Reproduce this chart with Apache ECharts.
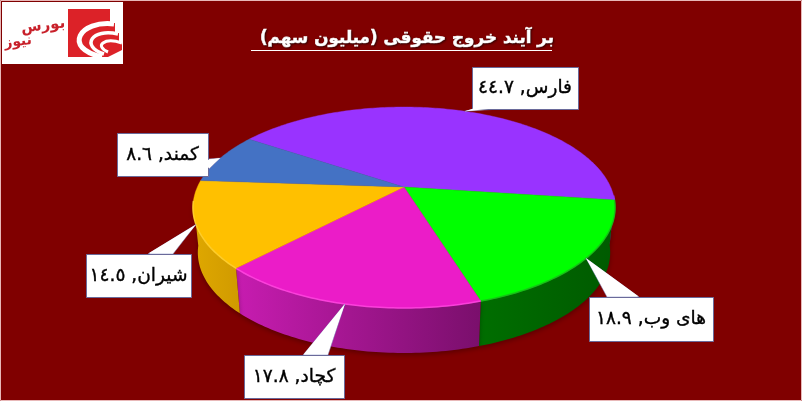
<!DOCTYPE html>
<html><head><meta charset="utf-8">
<style>html,body{margin:0;padding:0;background:#800000}#c{width:802px;height:401px}</style>
<script src="https://cdn.jsdelivr.net/npm/echarts@6/dist/echarts.min.js"></script>
</head><body><div id="c"></div>
<script>
const titleText = 'بر آیند خروج حقوقی (میلیون سهم)';
const logoWords = ['بورس', 'نیوز'];
const categories = ['فارس', 'های وب', 'کچاد', 'شیران', 'کمند'];
const values = [44.7, 18.9, 17.8, 14.5, 8.6];
const valueLabels = ['٤٤.٧', '١٨.٩', '١٧.٨', '١٤.٥', '٨.٦'];
const topColors = ['#9933FF', '#00FF00', '#EB1CC8', '#FFC000', '#4472C4'];
const edgeColors = ['#9933FF', '#18C018', '#FF45E0', '#FFD030', '#4472C4'];
const wallFrom = ['#7020C0', '#006E00', '#C71CB0', '#DFA800', '#335599'];
const wallTo = ['#7020C0', '#005A00', '#7A0F6C', '#D09A00', '#335599'];
const boxes = [[472,67,106,42],[589,297,124,44],[244,355,100,43],[86,254,105,43],[117,133,91,43]];
const bases = [[[474,109],[500,109]],[[607,297],[639,297]],[[303,355],[328,355]],[[148,254],[173,254]],[[208,159],[208,170]]];

const total = values.reduce((a, b) => a + b, 0);
const startDeg = -56.5, cx = 404, cy = 187, R = 206.6, A = 96.3, C = -0.204, depth = 45, shrink = 0.977;
const wallMin = 95, wallMax = 262;
function topPt(d) {
  const t = d * Math.PI / 180, u = Math.sin(t), v = -Math.cos(t), k = 1 + C * v;
  return [cx + R * u / k, cy + A * v / k];
}
function bottomPt(d) {
  const p = topPt(d);
  return [cx + (p[0] - cx) * shrink, p[1] + depth];
}
const spans = [];
values.reduce((s, v) => { const e = s + v / total * 360; spans.push([s, e]); return e; }, startDeg);
function arc(a, b, f) {
  const pts = [], n = Math.max(2, Math.ceil(Math.abs(b - a)));
  for (let i = 0; i <= n; i++) pts.push(f(a + (b - a) * i / n));
  return pts;
}
const idx = values.map((v, i) => [i, v]);

const chart = echarts.init(document.getElementById('c'), null, { renderer: 'canvas' });
chart.setOption({
  backgroundColor: '#800000',
  animation: false,
  title: {
    text: titleText, left: 402, top: 25, textAlign: 'center',
    textStyle: { color: '#fff', fontFamily: 'DejaVu Sans', fontWeight: 'bold', fontSize: 16.8,
      textBorderColor: '#fff', textBorderWidth: 0.6,
      textShadowColor: 'rgba(0,0,0,.5)', textShadowBlur: 2, textShadowOffsetX: 1, textShadowOffsetY: 1 }
  },
  series: [
    { type: 'custom', coordinateSystem: 'none', data: idx, z: 2, silent: true,
      renderItem(p, api) {
        const i = api.value(0), a = Math.max(spans[i][0], wallMin), b = Math.min(spans[i][1], wallMax);
        if (a >= b) return { type: 'group', children: [] };
        const t = arc(a, b, topPt), bt = arc(a, b, bottomPt).reverse();
        const xs = t.concat(bt).map(q => q[0]);
        return { type: 'polygon', shape: { points: t.concat(bt) },
          style: { fill: new echarts.graphic.LinearGradient(Math.min(...xs), 0, Math.max(...xs), 0,
            [{ offset: 0, color: wallFrom[i] }, { offset: 1, color: wallTo[i] }], true),
            shadowColor: 'rgba(0,0,0,.3)', shadowBlur: 5, shadowOffsetY: 2 } };
      } },
    { type: 'custom', coordinateSystem: 'none', data: idx, z: 3, silent: true,
      renderItem(p, api) {
        const i = api.value(0), a = spans[i][0], b = spans[i][1];
        const children = [{ type: 'polygon', shape: { points: [[cx, cy]].concat(arc(a, b, topPt)) },
          style: { fill: topColors[i], stroke: topColors[i], lineWidth: 0.4 } }];
        const ea = Math.max(a, wallMin), eb = Math.min(b, wallMax);
        if (ea < eb) children.push({ type: 'polyline', shape: { points: arc(ea, eb, topPt) },
          style: { fill: null, stroke: edgeColors[i], lineWidth: 1.5, opacity: 0.9 } });
        return { type: 'group', children };
      } },
    { type: 'custom', coordinateSystem: 'none', data: idx, z: 5, silent: true,
      renderItem(p, api) {
        const i = api.value(0), tip = topPt((spans[i][0] + spans[i][1]) / 2), bx = boxes[i], ba = bases[i];
        return { type: 'group', children: [
          { type: 'polygon', shape: { points: [ba[0], tip, ba[1]] },
            style: { fill: '#fff', stroke: 'rgba(120,130,190,.8)', lineWidth: 0.6 } },
          { type: 'rect', shape: { x: bx[0] + .5, y: bx[1] + .5, width: bx[2], height: bx[3] },
            style: { fill: '#fff', stroke: '#6A6A9A', lineWidth: 1 } },
          { type: 'polygon', shape: { points: [[ba[0][0] + (i === 4 ? -1 : 1), ba[0][1] + (i === 4 ? 1 : -1)], tip, [ba[1][0] - 1, ba[1][1] - 1]] },
            style: { fill: '#fff' } },
          { type: 'text', style: { text: categories[i] + ', ' + valueLabels[i],
              x: bx[0] + bx[2] / 2, y: bx[1] + bx[3] / 2 + .5, align: 'center', verticalAlign: 'middle',
              fill: '#000', stroke: '#000', lineWidth: 0.35, font: '18.6px "DejaVu Sans"' } }
        ] };
      } }
  ],
  graphic: [
    { type: 'line', z: 6, shape: { x1: 251, y1: 50.5, x2: 552, y2: 50.5 }, style: { stroke: '#fff', lineWidth: 1 } },
    { type: 'rect', z: 6, shape: { x: 2, y: 2, width: 121, height: 62 }, style: { fill: '#fff' } },
    { type: 'polygon', z: 7, shape: { points: [[68,9],[110,9],[110,23],[115,23],[115,33],[119,33],[119,42],[122,42],[122,50],[108,57],[68,57]] }, style: { fill: '#DC2228' } },
    { type: 'bezierCurve', z: 8, shape: { x1: 114, y1: 24, cpx1: 80, cpy1: 20, cpx2: 62, cpy2: 48, x2: 102, y2: 57 }, style: { stroke: '#fff', fill: null, lineWidth: 5 } },
    { type: 'bezierCurve', z: 8, shape: { x1: 118, y1: 34, cpx1: 92, cpy1: 28, cpx2: 80, cpy2: 46, x2: 104, y2: 54 }, style: { stroke: '#fff', fill: null, lineWidth: 3.5 } },
    { type: 'bezierCurve', z: 8, shape: { x1: 122, y1: 43, cpx1: 104, cpy1: 37, cpx2: 94, cpy2: 46, x2: 108, y2: 52 }, style: { stroke: '#fff', fill: null, lineWidth: 3 } },
    { type: 'text', z: 8, x: 43, y: 26, rotation: 0.12, style: { text: logoWords[0], align: 'center', verticalAlign: 'middle', fill: '#C8202A', font: 'bold 15px "DejaVu Sans"' } },
    { type: 'text', z: 8, x: 18, y: 42, rotation: 0.12, style: { text: logoWords[1], align: 'center', verticalAlign: 'middle', fill: '#C8202A', font: 'bold 14px "DejaVu Sans"' } },
    { type: 'rect', z: 9, shape: { x: .5, y: .5, width: 801, height: 400 }, style: { fill: null, stroke: '#E8B8B8', lineWidth: 1 } }
  ]
});
</script></body></html>
